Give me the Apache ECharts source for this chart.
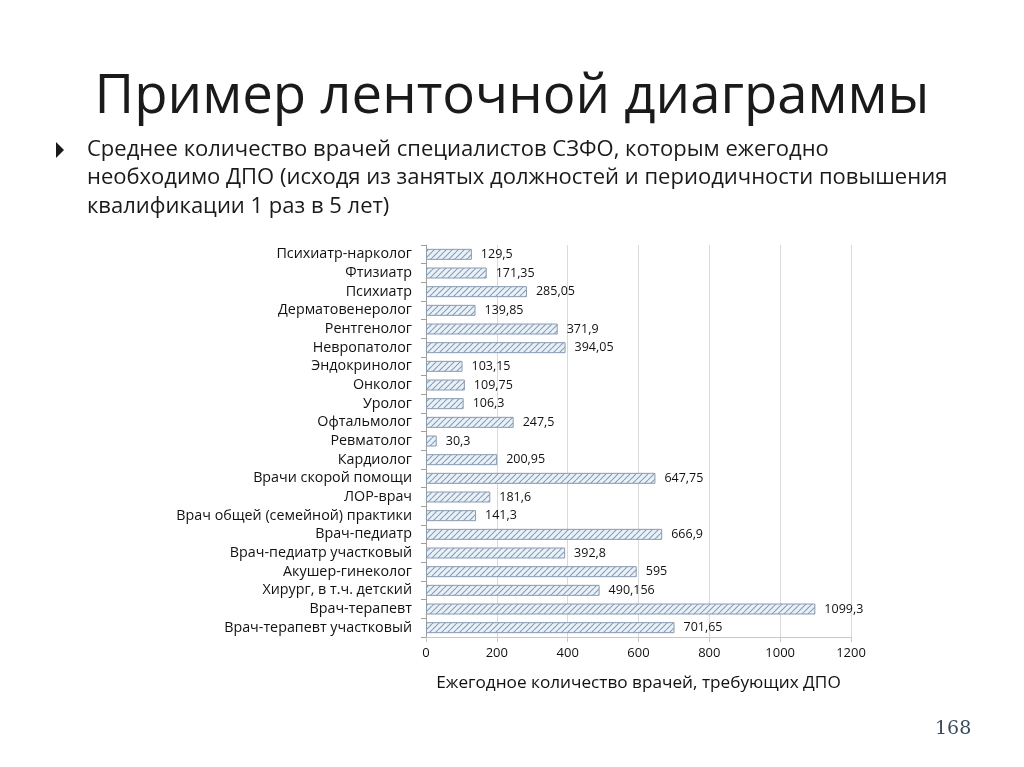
<!DOCTYPE html>
<html><head><meta charset="utf-8">
<script src="https://cdn.jsdelivr.net/npm/echarts@6/dist/echarts.min.js"></script>
<style>html,body{margin:0;padding:0;background:#fff}#c{width:1024px;height:767px}</style>
</head><body><div id="c"></div>
<script>
const categories = ['Психиатр-нарколог','Фтизиатр','Психиатр','Дерматовенеролог','Рентгенолог','Невропатолог','Эндокринолог','Онколог','Уролог','Офтальмолог','Ревматолог','Кардиолог','Врачи скорой помощи','ЛОР-врач','Врач общей (семейной) практики','Врач-педиатр','Врач-педиатр участковый','Акушер-гинеколог','Хирург, в т.ч. детский','Врач-терапевт','Врач-терапевт участковый'];
const values = [129.5,171.35,285.05,139.85,371.9,394.05,103.15,109.75,106.3,247.5,30.3,200.95,647.75,181.6,141.3,666.9,392.8,595,490.156,1099.3,701.65];
const valueLabels = ['129,5','171,35','285,05','139,85','371,9','394,05','103,15','109,75','106,3','247,5','30,3','200,95','647,75','181,6','141,3','666,9','392,8','595','490,156','1099,3','701,65'];
const xTicks = [0,200,400,600,800,1000,1200];

const pc = document.createElement('canvas');
pc.width = 6; pc.height = 6;
const g = pc.getContext('2d');
g.fillStyle = '#e8f1fa'; g.fillRect(0,0,6,6);
g.strokeStyle = '#8a9bb0'; g.lineWidth = 1.1;
g.beginPath();
for (let k=-6;k<=12;k+=6){ g.moveTo(k,6); g.lineTo(k+6,0); }
g.stroke();

const chart = echarts.init(document.getElementById('c'));
const font = 'Open Sans, Lato, sans-serif';
chart.setOption({
  animation:false,
  textStyle:{fontFamily:font},
  grid:{left:426,right:173,top:245,bottom:130},
  xAxis:{type:'value',min:0,max:1200,interval:200,
    axisLine:{show:true,lineStyle:{color:'#c8c8c8'}},
    axisTick:{show:true,length:5,lineStyle:{color:'#c8c8c8'}},
    splitLine:{show:true,lineStyle:{color:'#d9d9d9'}},
    axisLabel:{color:'#111',fontSize:13,margin:10,formatter:v=>String(v)},
    name:'Ежегодное количество врачей, требующих ДПО',nameLocation:'middle',nameGap:38,
    nameTextStyle:{color:'#111',fontSize:17.2,fontFamily:font}},
  yAxis:{type:'category',data:categories,inverse:true,
    axisLine:{show:true,lineStyle:{color:'#a0a0a0'}},
    axisTick:{show:true,length:5,lineStyle:{color:'#a0a0a0'}},
    axisLabel:{color:'#111',fontSize:14.3,margin:14,interval:0,hideOverlap:false}},
  series:[{type:'bar',data:values,barWidth:11,
    itemStyle:{color:{image:pc,repeat:'repeat'},borderColor:'#8a9bb0',borderWidth:1},
    label:{show:true,position:'right',distance:9,color:'#111',fontSize:12.5,
      formatter:p=>valueLabels[p.dataIndex]}}],
  graphic:[
    {type:'text',left:'center',top:70,style:{text:'Пример ленточной диаграммы',fontSize:54.5,fontFamily:font,fill:'#1a1a1a'}},
    {type:'polygon',shape:{points:[[56,142],[56,158],[64,150]]},style:{fill:'#1a1a1a'}},
    {type:'text',left:87,top:135,style:{text:'Среднее количество врачей специалистов СЗФО, которым ежегодно\nнеобходимо ДПО (исходя из занятых должностей и периодичности повышения\nквалификации 1 раз в 5 лет)',fontSize:22,lineHeight:28.5,fontFamily:font,fill:'#1a1a1a'}},
    {type:'text',left:935,top:720,style:{text:'168',fontSize:19,fontFamily:'DejaVu Serif, serif',fill:'#3b4b5e'}}
  ]
});
</script></body></html>
